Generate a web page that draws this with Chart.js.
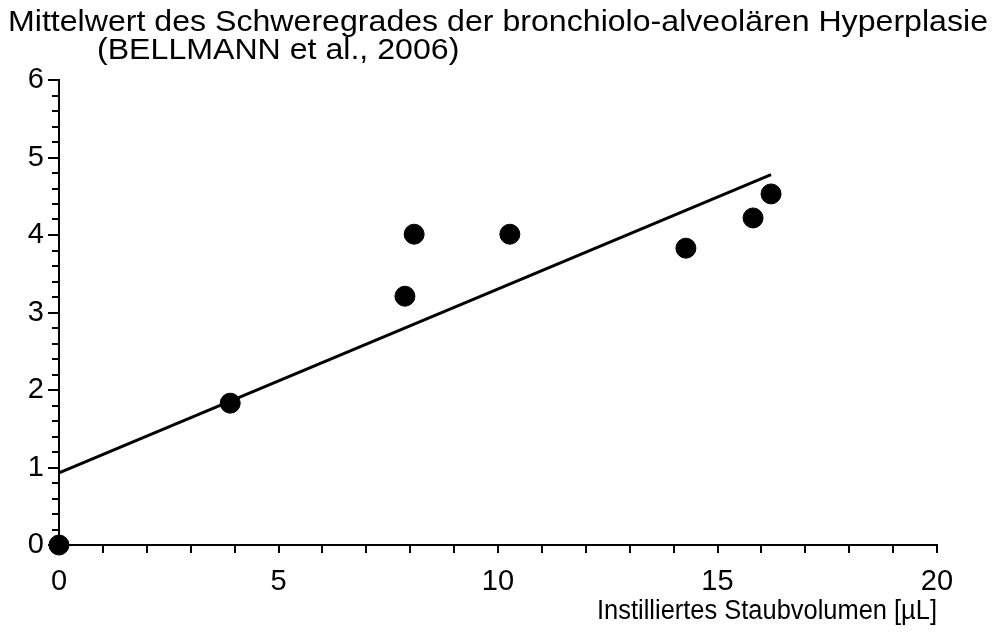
<!DOCTYPE html>
<html>
<head>
<meta charset="utf-8">
<title>Bronchiolo-alveoläre Hyperplasie</title>
<script src="https://cdn.jsdelivr.net/npm/chart.js@4/dist/chart.umd.min.js"></script>
<style>
  html, body { margin: 0; padding: 0; background: #fff; }
  #wrap { width: 993px; height: 644px; }
</style>
</head>
<body>
<div id="wrap"><canvas id="chart" width="993" height="644"></canvas></div>
<script>
// values
var doseX = [0, 3.9, 7.88, 8.09, 10.27, 14.28, 15.81, 16.22];
var meanGrade = [0, 1.83, 3.21, 4.01, 4.01, 3.83, 4.22, 4.53];
var fitX = [0, 16.22];
var fitY = [0.93, 4.78];
var xMajor = [0, 5, 10, 15, 20];
var yMajor = [0, 1, 2, 3, 4, 5, 6];

var titleLine1 = 'Mittelwert des Schweregrades der bronchiolo-alveolären Hyperplasie';
var titleLine2 = '(BELLMANN et al., 2006)';
var xTitle = 'Instilliertes Staubvolumen [µL]';

var FONT = '"Liberation Sans", Arial, sans-serif';

function toPoints(xs, ys) {
  var pts = [];
  for (var i = 0; i < xs.length; i++) {
    pts.push({x: xs[i], y: ys[i]});
  }
  return pts;
}

function isMajor(v, list) {
  for (var i = 0; i < list.length; i++) {
    if (Math.abs(v - list[i]) < 1e-6) return true;
  }
  return false;
}

// draw text squeezed/stretched sideways so it spans the same width as the original
function fitText(ctx, txt, x, y, sx) {
  ctx.save();
  ctx.translate(x, y);
  ctx.scale(sx, 1);
  ctx.fillText(txt, 0, 0);
  ctx.restore();
}

// tick marks (minor + major) and the text around the plot
var decor = {
  id: 'decor',
  afterDraw: function(chart) {
    var ctx = chart.ctx;
    var xs = chart.scales.x, ys = chart.scales.y;
    var area = chart.chartArea;
    ctx.save();
    ctx.strokeStyle = '#000';
    ctx.lineWidth = 2;
    ctx.beginPath();
    ys.ticks.forEach(function(t) {
      var py = Math.round(ys.getPixelForValue(t.value));
      var len = isMajor(t.value, yMajor) ? 11 : 7;
      ctx.moveTo(area.left, py);
      ctx.lineTo(area.left - len, py);
    });
    xs.ticks.forEach(function(t) {
      var px = Math.round(xs.getPixelForValue(t.value));
      ctx.moveTo(px, area.bottom);
      ctx.lineTo(px, area.bottom + 8);
    });
    ctx.stroke();

    ctx.fillStyle = '#000';
    ctx.textBaseline = 'middle';
    ctx.font = '29px ' + FONT;
    ctx.textAlign = 'left';
    var sx = 980 / ctx.measureText(titleLine1).width;
    fitText(ctx, titleLine1, 8, 23, sx);
    fitText(ctx, titleLine2, 97, 51, sx);
    ctx.textAlign = 'right';
    ctx.font = '27px ' + FONT;
    fitText(ctx, xTitle, area.right, 612, 340 / ctx.measureText(xTitle).width);
    ctx.restore();
  }
};

new Chart(document.getElementById('chart'), {
  type: 'scatter',
  data: {
    datasets: [{
      label: 'Mittelwert',
      data: toPoints(doseX, meanGrade),
      backgroundColor: '#000',
      borderColor: '#000',
      pointRadius: 10,
      pointHoverRadius: 10,
      clip: false,
      order: 1
    }, {
      type: 'line',
      label: 'Regression',
      data: toPoints(fitX, fitY),
      borderColor: '#000',
      borderWidth: 3,
      pointRadius: 0,
      fill: false,
      order: 2
    }]
  },
  options: {
    responsive: false,
    animation: false,
    layout: { padding: { top: 80, right: 56, left: 0, bottom: 0 } },
    plugins: {
      legend: { display: false },
      tooltip: { enabled: false },
      title: { display: false }
    },
    scales: {
      x: {
        type: 'linear',
        min: 0,
        max: 20,
        afterFit: function(s) { s.height = 99; },
        border: { display: true, color: '#000', width: 2 },
        grid: { display: false, drawTicks: false },
        ticks: {
          stepSize: 1,
          autoSkip: false,
          maxRotation: 0,
          padding: 20,
          color: '#000',
          font: { family: FONT, size: 29 },
          callback: function(v) { return isMajor(v, xMajor) ? v : ''; }
        }
      },
      y: {
        min: 0,
        max: 6,
        afterFit: function(s) { s.width = 59; },
        border: { display: true, color: '#000', width: 2 },
        grid: { display: false, drawTicks: false },
        ticks: {
          stepSize: 0.2,
          autoSkip: false,
          padding: 15,
          color: '#000',
          font: { family: FONT, size: 29 },
          callback: function(v) { return isMajor(v, yMajor) ? Math.round(v) : ''; }
        }
      }
    }
  },
  plugins: [decor]
});
</script>
</body>
</html>
